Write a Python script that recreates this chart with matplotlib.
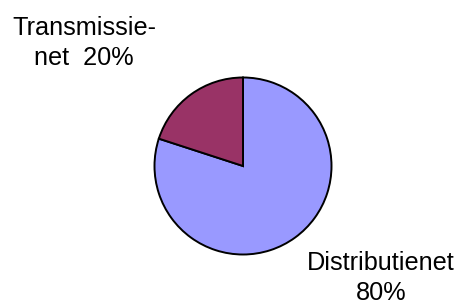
import matplotlib
matplotlib.use("Agg")
import matplotlib.pyplot as plt

# data
namen = ["Distributienet", "Transmissienet"]
aandeel = [80, 20]
kleuren = ["#9999FF", "#993366"]

W, H = 460, 305
fig = plt.figure(figsize=(W / 100, H / 100), dpi=100)
ax = fig.add_axes([0, 0, 1, 1])
ax.set_xlim(0, W)
ax.set_ylim(0, H)
ax.set_aspect("equal")
ax.axis("off")

ax.pie(aandeel, colors=kleuren, startangle=90, counterclock=False,
       center=(243, H - 166), radius=88.5,
       wedgeprops=dict(edgecolor="black", linewidth=1.4))
ax.set_xlim(0, W)
ax.set_ylim(0, H)

font = dict(family=["Liberation Sans", "DejaVu Sans"], fontsize=18.2,
            ha="center", va="center", linespacing=1.3)
ax.text(381, H - 278, f"{namen[0]}\n{aandeel[0]}%", **font)
ax.text(84, H - 43, f"{namen[1][:11]}-\n{namen[1][11:]}  {aandeel[1]}%", **font)

fig.savefig("out.png", dpi=100)
